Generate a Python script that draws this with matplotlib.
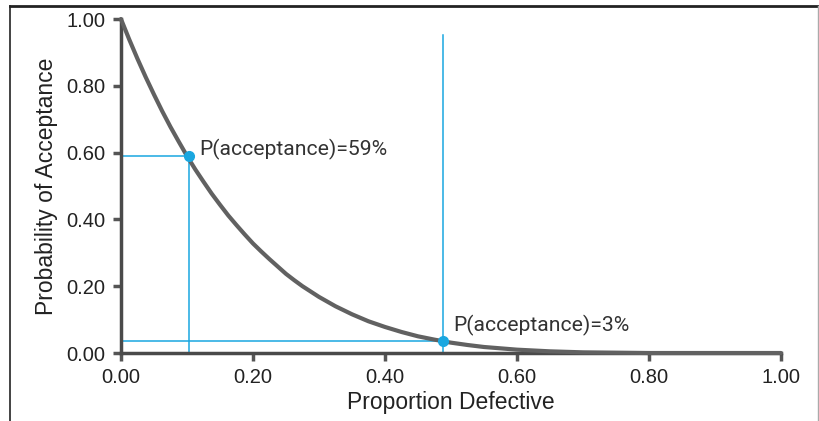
import matplotlib.pyplot as plt
from matplotlib.lines import Line2D

# values
p_defective = [0.0, 0.0125, 0.025, 0.0375, 0.05, 0.0625, 0.075, 0.0875, 0.10,
               0.1125, 0.125, 0.1375, 0.15, 0.1625, 0.175, 0.1875, 0.20, 0.2125,
               0.225, 0.2375, 0.25, 0.2625, 0.275, 0.2875, 0.30, 0.325, 0.35,
               0.375, 0.40, 0.425, 0.45, 0.475, 0.50, 0.525, 0.55, 0.575, 0.60,
               0.65, 0.70, 0.75, 0.80, 1.00]
p_accept = [1.00, 0.939, 0.881, 0.826, 0.774, 0.724, 0.677, 0.633, 0.590,
            0.550, 0.513, 0.477, 0.444, 0.412, 0.383, 0.355, 0.328, 0.304,
            0.281, 0.259, 0.237, 0.218, 0.200, 0.184, 0.168, 0.140, 0.116,
            0.095, 0.078, 0.063, 0.050, 0.040, 0.031, 0.024, 0.018, 0.014, 0.010,
            0.005, 0.002, 0.001, 0.0, 0.0]

marked_x = [0.103, 0.488]
marked_y = [0.59, 0.035]
marked_text = ['P(acceptance)=59%', 'P(acceptance)=3%']
vline_top = [0.59, 0.952]

ticks = [0.0, 0.2, 0.4, 0.6, 0.8, 1.0]
tick_labels = ['0.00', '0.20', '0.40', '0.60', '0.80', '1.00']

blue = '#1aa7e0'
label_y = [0.608, 0.084]

plt.rcParams['font.family'] = ['Liberation Sans', 'DejaVu Sans']

fig = plt.figure(figsize=(8.19, 4.21), dpi=100)
ax = fig.add_axes([0.1477, 0.1615, 0.8059, 0.7933])

ax.plot(p_defective, p_accept, color='#616161', lw=3, solid_capstyle='round',
        solid_joinstyle='round', clip_on=False, zorder=3)

for x, y, top, txt, ty in zip(marked_x, marked_y, vline_top, marked_text, label_y):
    ax.plot([0, x], [y, y], color=blue, lw=1.1, zorder=2, clip_on=False)
    ax.plot([x, x], [0, top], color=blue, lw=1.1, zorder=2, clip_on=False)
    ax.plot(x, y, 'o', color=blue, ms=7, zorder=4)
    ax.text(x + 0.016, ty, txt, fontsize=15.2, family=['Roboto', 'DejaVu Sans'],
            color='#333333', va='center', ha='left')

ax.set_xlim(0, 1)
ax.set_ylim(0, 1)
ax.set_xticks(ticks)
ax.set_xticklabels(tick_labels)
ax.set_yticks(ticks)
ax.set_yticklabels(tick_labels)
ax.tick_params(direction='out', length=6, width=2.5, color='#555555',
               labelsize=14.5, labelcolor='#222222', pad=5)
for s in ['top', 'right']:
    ax.spines[s].set_visible(False)
for s in ['left', 'bottom']:
    ax.spines[s].set_color('#4a4a4a')
    ax.spines[s].set_linewidth(2.5)

ax.set_xlabel('Proportion Defective', fontsize=16.5, color='#222222', labelpad=3)
ax.set_ylabel('Probability of Acceptance', fontsize=16.5, color='#222222', labelpad=6)

# outer frame of the figure
fig.add_artist(Line2D([10/819, 818/819], [1 - 6/421, 1 - 6/421], color='#222222', lw=2))
fig.add_artist(Line2D([10/819, 10/819], [0, 1 - 6/421], color='#222222', lw=1.2))
fig.add_artist(Line2D([818/819, 818/819], [0, 1 - 6/421], color='#aaaaaa', lw=1))

fig.savefig('out.png', dpi=100)
